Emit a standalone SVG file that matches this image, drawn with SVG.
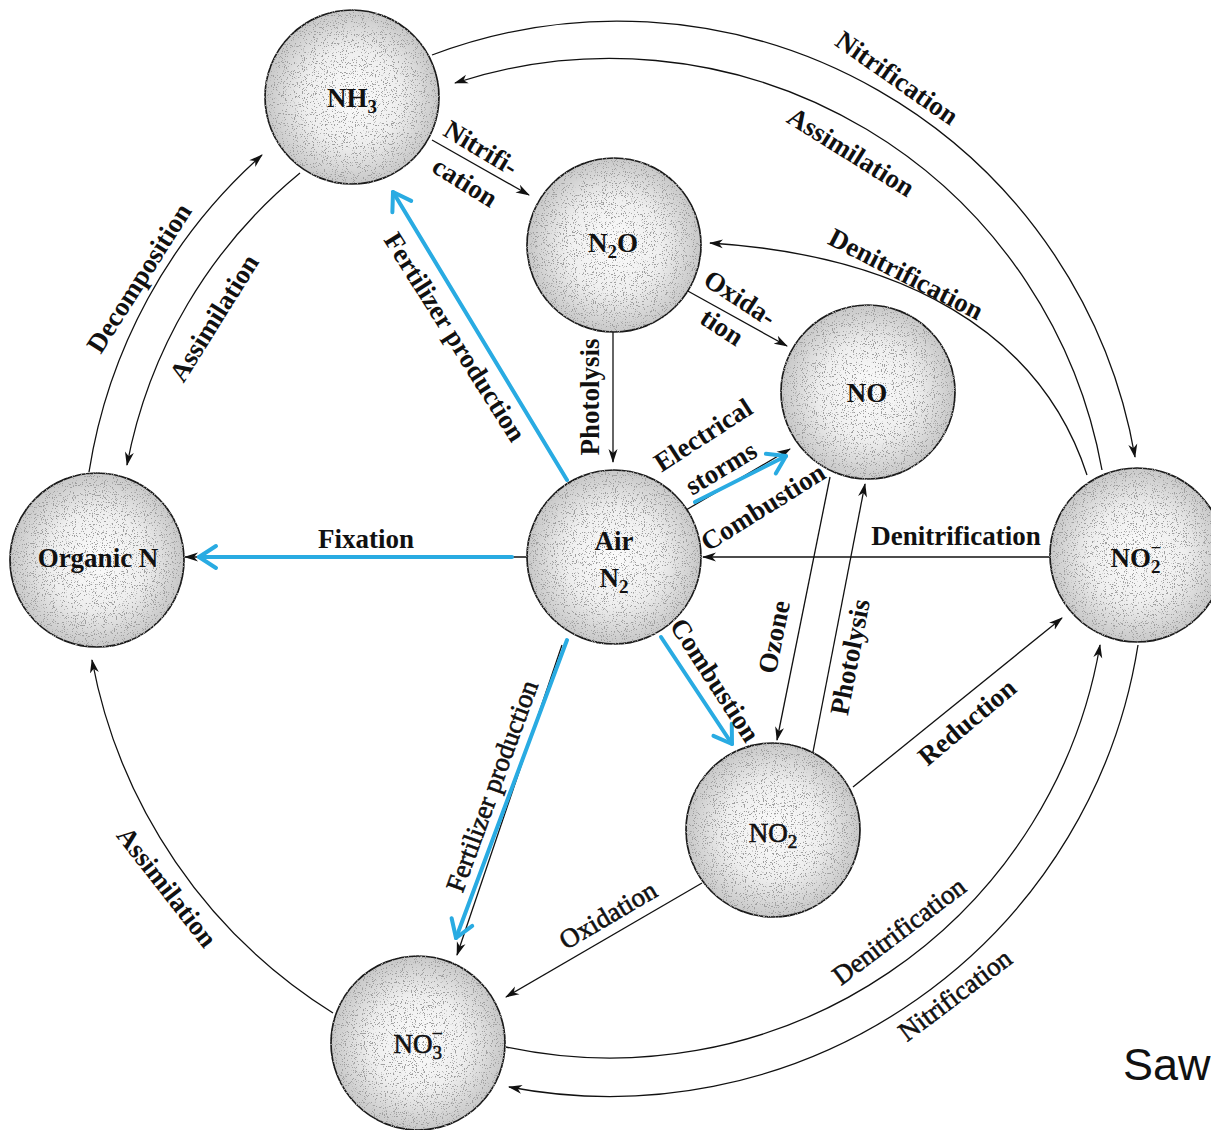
<svg xmlns="http://www.w3.org/2000/svg" width="1211" height="1130" viewBox="0 0 1211 1130">
<defs>
<radialGradient id="g" cx="50%" cy="50%" r="50%">
<stop offset="0" stop-color="#fbfbfb"/>
<stop offset="0.55" stop-color="#eeeeee"/>
<stop offset="1" stop-color="#c8c8c8"/>
</radialGradient>
<filter id="stip" x="-5%" y="-5%" width="110%" height="110%">
<feTurbulence type="fractalNoise" baseFrequency="0.9" numOctaves="2" seed="4" result="noise"/>
<feColorMatrix in="noise" type="matrix" values="0 0 0 0 0.35  0 0 0 0 0.35  0 0 0 0 0.35  0 0 0 -16 6.3" result="dots"/>
<feComposite in="dots" in2="SourceGraphic" operator="in" result="cd"/>
<feMerge><feMergeNode in="SourceGraphic"/><feMergeNode in="cd"/></feMerge>
</filter>
<marker id="ah" viewBox="0 0 14 10" refX="13" refY="5" markerWidth="14" markerHeight="10" markerUnits="userSpaceOnUse" orient="auto">
<path d="M0,0.5 L14,5 L0,9.5 L4,5 Z" fill="#111"/>
</marker>
<marker id="bh" viewBox="-3 -3 24 28" refX="17" refY="11" markerWidth="24" markerHeight="28" markerUnits="userSpaceOnUse" orient="auto">
<path d="M0,0 L17,11 L0,22" fill="none" stroke="#29abe2" stroke-width="4" stroke-linecap="round" stroke-linejoin="round"/>
</marker>
</defs>
<style>
.node circle{fill:url(#g);stroke:#1a1a1a;stroke-width:1.7;filter:url(#stip)}
.c{fill:none;stroke:#111;stroke-width:1.3;marker-end:url(#ah)}
.b{fill:none;stroke:#29abe2;stroke-width:4;stroke-linecap:round;marker-end:url(#bh)}
text{font-family:"Liberation Serif","Times New Roman",serif;font-size:27px;fill:#111;font-weight:bold;text-anchor:middle}
.r{font-weight:normal;stroke:#111;stroke-width:0.6}
.sub{font-size:19px}
</style>
<rect width="1211" height="1130" fill="#fff"/>

<g id="connectors">
<path class="c" d="M432,55 A525,525 0 0 1 1135,457"/>
<path class="c" d="M1102,470 A500,500 0 0 0 455,83"/>
<path class="c" d="M1087,475 C1040,330 900,255 710,243"/>
<path class="c" d="M89,472 A535,535 0 0 1 262,155"/>
<path class="c" d="M300,173 A497,497 0 0 0 127,465"/>
<path class="c" d="M333,1013 A532,532 0 0 1 92,660"/>
<path class="c" d="M506,1047 A497,497 0 0 0 1100,645"/>
<path class="c" d="M1138,645 A535,535 0 0 1 509,1087"/>
<path class="c" d="M432,140 L529,195"/>
<path class="c" d="M686,290 L787,346"/>
<path class="c" d="M613,332 L613,462"/>
<path class="c" d="M830,477 L777,740"/>
<path class="c" d="M813,752 L865,484"/>
<path class="c" d="M1050,557 L703,557"/>
<path class="c" d="M702,883 L506,997"/>
<path class="c" d="M853,787 L1062,618"/>
<path class="c" d="M527,557 L185,557"/>
<path class="c" d="M686,510 L790,449"/>
<path class="c" d="M562,645 L457,955"/>
<path class="b" d="M512,557 L199,557"/>
<path class="b" d="M567,480 L393,192"/>
<path class="b" d="M567,640 L456,938"/>
<path class="b" d="M661,637 L732,744"/>
<path class="b" d="M695,502 L786,456"/>
</g>

<g id="labels">
<text transform="translate(897,78) rotate(35)" y="9">Nitrification</text>
<text transform="translate(851,152) rotate(32)" y="9">Assimilation</text>
<text transform="translate(906,274) rotate(27)" y="9">Denitrification</text>
<text transform="translate(481,148) rotate(31)" y="9">Nitrifi-</text>
<text transform="translate(465,182) rotate(32)" y="9">cation</text>
<text transform="translate(740,298) rotate(33)" y="9">Oxida-</text>
<text transform="translate(722,327) rotate(33)" y="9">tion</text>
<text transform="translate(590,397) rotate(-90)" y="9">Photolysis</text>
<text transform="translate(703,435) rotate(-33)" y="9">Electrical</text>
<text transform="translate(721,468) rotate(-31)" y="9">storms</text>
<text transform="translate(763,507) rotate(-32)" y="9">Combustion</text>
<text x="366" y="548">Fixation</text>
<text transform="translate(455,337) rotate(57.7)" y="9">Fertilizer production</text>
<text transform="translate(139,278) rotate(-57.5)" y="9">Decomposition</text>
<text transform="translate(214,318) rotate(-58)" y="9">Assimilation</text>
<text transform="translate(167,887) rotate(52)" y="9">Assimilation</text>
<text x="956" y="545">Denitrification</text>
<text transform="translate(715,680) rotate(57)" y="9">Combustion</text>
<text transform="translate(774,637) rotate(-78.5)" y="9">Ozone</text>
<text transform="translate(850,657) rotate(-79)" y="9">Photolysis</text>
<text transform="translate(967,722) rotate(-40)" y="9">Reduction</text>
<text class="r" transform="translate(492,786) rotate(-70)" y="9">Fertilizer production</text>
<text class="r" transform="translate(608,915) rotate(-30.5)" y="9">Oxidation</text>
<text class="r" transform="translate(899,931) rotate(-37)" y="9">Denitrification</text>
<text class="r" transform="translate(955,995) rotate(-37)" y="9">Nitrification</text>
</g>

<g id="node-nh3" class="node"><circle cx="352" cy="97" r="87"/><text x="352" y="107">NH<tspan class="sub" dy="6">3</tspan></text></g>
<g id="node-n2o" class="node"><circle cx="614" cy="245" r="87"/><text x="613" y="252">N<tspan class="sub" dy="6">2</tspan><tspan dy="-6">O</tspan></text></g>
<g id="node-no" class="node"><circle cx="868" cy="392" r="87"/><text x="867" y="402">NO</text></g>
<g id="node-air" class="node"><circle cx="614" cy="557" r="87"/><text x="614" y="550">Air</text><text x="614" y="587">N<tspan class="sub" dy="6">2</tspan></text></g>
<g id="node-organic" class="node"><circle cx="97" cy="560" r="87"/><text x="98" y="567">Organic N</text></g>
<g id="node-no2minus" class="node"><circle cx="1137" cy="555" r="87"/><text x="1136" y="567">NO<tspan class="sub" dy="6">2</tspan><tspan class="sub" dx="-10" dy="-19">−</tspan></text></g>
<g id="node-no2" class="node"><circle cx="773" cy="830" r="87"/><text class="r" x="773" y="842">NO<tspan class="sub" dy="6">2</tspan></text></g>
<g id="node-no3minus" class="node"><circle cx="418" cy="1043" r="87"/><text class="r" x="418" y="1053">NO<tspan class="sub" dy="6">3</tspan><tspan class="sub" dx="-10" dy="-19">−</tspan></text></g>

<text x="1123" y="1080" style="font-family:'Liberation Sans',Arial,sans-serif;font-size:45px;font-weight:normal;text-anchor:start">Saw</text>
</svg>
